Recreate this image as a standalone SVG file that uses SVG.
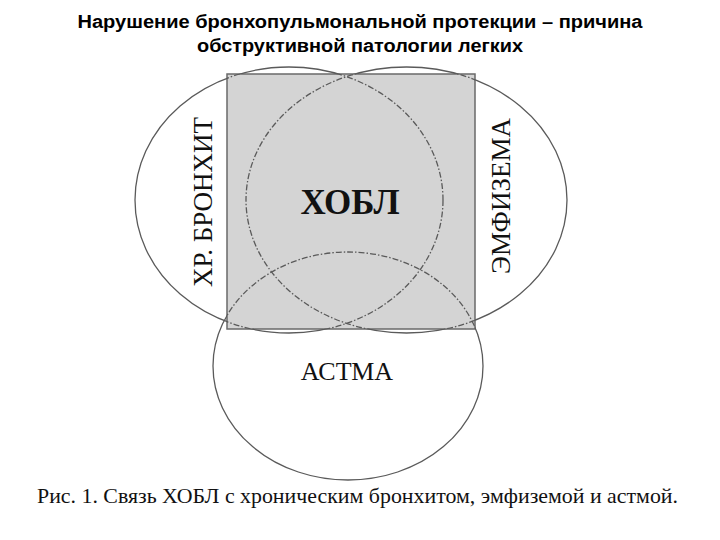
<svg xmlns="http://www.w3.org/2000/svg" width="720" height="540" viewBox="0 0 720 540">
<style>
.title{font-family:"Liberation Sans",Arial,sans-serif;font-weight:bold;font-size:18px;fill:#000;text-anchor:middle}
.lbl{font-family:"Liberation Serif","Times New Roman",serif;fill:#111;text-anchor:middle}
.solid{fill:none;stroke:#5a5a5a;stroke-width:1.3}
.dash{fill:none;stroke:#5a5a5a;stroke-width:1.3;stroke-dasharray:6 2 1.5 2}
</style>
<defs>
<clipPath id="inside"><rect x="227" y="74" width="248" height="255"/></clipPath>
<mask id="outside"><rect x="0" y="0" width="720" height="540" fill="#fff"/><rect x="227" y="74" width="248" height="255" fill="#000"/></mask>
<ellipse id="e-left" cx="289" cy="200" rx="154" ry="133"/>
<ellipse id="e-right" cx="406.5" cy="200" rx="160.5" ry="133"/>
<ellipse id="e-bottom" cx="348" cy="366" rx="135" ry="114"/>
</defs>
<rect id="copd-box" x="227" y="74" width="248" height="255" fill="#d4d4d4" stroke="#6a6a6a" stroke-width="1.5"/>
<g id="bronchitis">
<use href="#e-left" class="dash" clip-path="url(#inside)"/>
<use href="#e-left" class="solid" mask="url(#outside)"/>
<text class="lbl" font-size="27" x="212" y="202" transform="rotate(-90 212 202)">ХР. БРОНХИТ</text>
</g>
<g id="emphysema">
<use href="#e-right" class="dash" clip-path="url(#inside)"/>
<use href="#e-right" class="solid" mask="url(#outside)"/>
<text class="lbl" font-size="27" x="510" y="196" transform="rotate(-90 510 196)">ЭМФИЗЕМА</text>
</g>
<g id="asthma">
<use href="#e-bottom" class="dash" clip-path="url(#inside)"/>
<use href="#e-bottom" class="solid" mask="url(#outside)"/>
<text class="lbl" font-size="26" x="347" y="380">АСТМА</text>
</g>
<g id="copd">
<text class="lbl" font-size="35" font-weight="bold" x="350" y="214">ХОБЛ</text>
</g>
<text class="title" x="360" y="28" textLength="565" lengthAdjust="spacingAndGlyphs">Нарушение бронхопульмональной протекции – причина</text>
<text class="title" x="360" y="52" textLength="326" lengthAdjust="spacingAndGlyphs">обструктивной патологии легких</text>
<text class="lbl" font-size="21" x="357.5" y="503" fill="#222" textLength="641" lengthAdjust="spacingAndGlyphs">Рис. 1. Связь ХОБЛ с хроническим бронхитом, эмфиземой и астмой.</text>
</svg>
